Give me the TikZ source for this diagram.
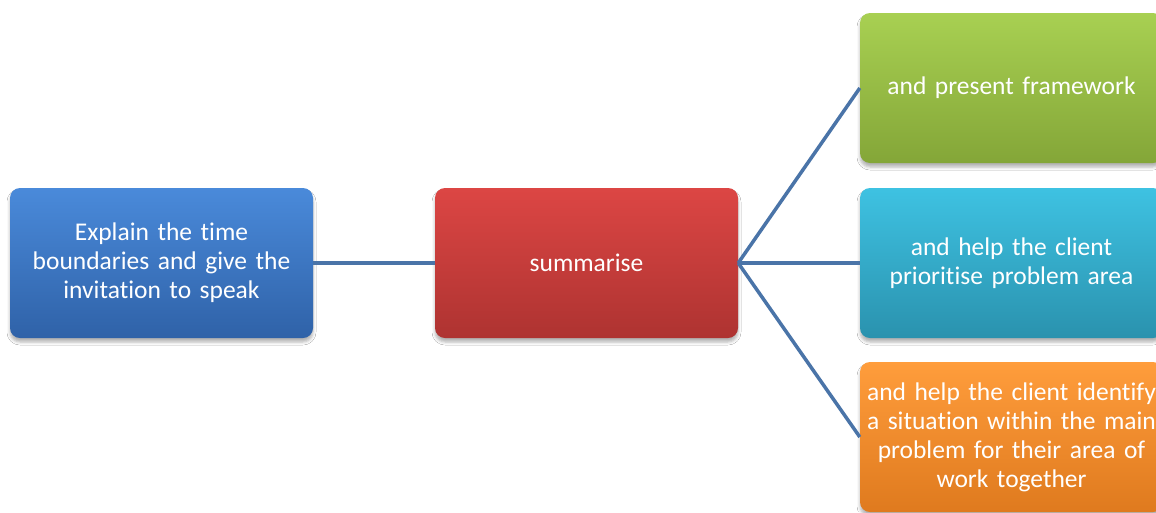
\documentclass[tikz,border=0pt]{standalone}
\usepackage{fontspec}
\setmainfont[Ligatures=NoCommon]{Carlito}
\usetikzlibrary{shadows.blur}
\definecolor{bluetop}{HTML}{4A8ADA}
\definecolor{bluebot}{HTML}{2F62A8}
\definecolor{redtop}{HTML}{DC4644}
\definecolor{redbot}{HTML}{AE3331}
\definecolor{greentop}{HTML}{A8D052}
\definecolor{greenbot}{HTML}{84A638}
\definecolor{cyantop}{HTML}{3EC2E2}
\definecolor{cyanbot}{HTML}{2A92AE}
\definecolor{orangetop}{HTML}{FF9D3C}
\definecolor{orangebot}{HTML}{DF7A1E}
\definecolor{linkblue}{HTML}{4A74A8}
\begin{document}
\begin{tikzpicture}[x=1pt,y=-1pt,
  card/.style={rounded corners=10pt, minimum width=303pt, minimum height=150pt,
    inner sep=0pt, text width=300pt, align=center, text=white,
    font=\fontsize{25.5}{29}\selectfont,
    blur shadow={shadow xshift=0pt, shadow yshift=-4pt, shadow blur radius=3pt, shadow opacity=30}},
  conn/.style={draw=linkblue, line width=3.5pt}]
\clip (0,0) rectangle (1156,512);
\fill[white] (0,0) rectangle (1156,512);

\node[card, top color=bluetop, bottom color=bluebot] (start) at (161.5,263)
  {Explain the time\\boundaries and give the\\invitation to speak};
\node[card, top color=redtop, bottom color=redbot] (sum) at (586.5,263) {summarise};
\node[card, top color=greentop, bottom color=greenbot] (frame) at (1011.5,88)
  {and present framework};
\node[card, top color=cyantop, bottom color=cyanbot] (prio) at (1011.5,263)
  {and help the client\\prioritise problem area};
\node[card, top color=orangetop, bottom color=orangebot] (sit) at (1011.5,437)
  {and help the client identify\\a situation within the main\\problem for their area of\\work together};

\draw[conn] (start.east) -- (sum.west);
\draw[conn] (sum.east) -- (frame.west);
\draw[conn] (sum.east) -- (prio.west);
\draw[conn] (sum.east) -- (sit.west);
\end{tikzpicture}
\end{document}
